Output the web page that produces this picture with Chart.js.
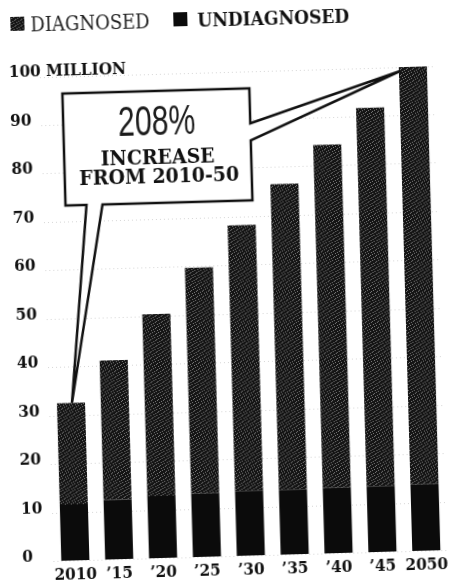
<!DOCTYPE html>
<html><head><meta charset="utf-8">
<script src="https://cdn.jsdelivr.net/npm/chart.js@4.4.1/dist/chart.umd.min.js"></script>
<style>
html,body{margin:0;padding:0;background:#fff;overflow:hidden;width:458px;height:585px}
#wrap{position:absolute;left:0;top:0;width:458px;height:585px;transform:rotate(-1.6deg);transform-origin:229px 292.5px}
canvas{display:block}
</style></head><body>
<div id="wrap"><canvas id="c" width="458" height="585"></canvas></div>
<script>
// ---- data (millions) ----
const years = ['2010', '\u201915', '\u201920', '\u201925', '\u201930', '\u201935', '\u201940', '\u201945', '2050'];
const undiagnosed = [11.7, 12.4, 12.9, 13.2, 13.5, 13.5, 13.6, 13.7, 13.8];
const diagnosed = [20.9, 28.8, 37.6, 46.6, 54.8, 63.1, 70.8, 78.1, 86.2];
const yTicks = [0, 10, 20, 30, 40, 50, 60, 70, 80, 90, 100];
const topTickLabel = '100 MILLION';
const legendOrder = ['DIAGNOSED', 'UNDIAGNOSED'];
const calloutBig = '208%';
const calloutSmall = ['INCREASE', 'FROM 2010-50'];

const SERIF = '"DejaVu Serif Condensed", "DejaVu Serif", serif';
const INK = '#111111';
const Y_AXIS_W = 31;

const canvas = document.getElementById('c');
const mainCtx = canvas.getContext('2d');
function stipple() {
  const c = document.createElement('canvas');
  c.width = 6; c.height = 6;
  const g = c.getContext('2d');
  g.fillStyle = '#141414'; g.fillRect(0, 0, 6, 6);
  g.fillStyle = '#7a7a7a';
  [[1,0],[4,2],[0,4],[3,5],[5,1],[2,3]].forEach(p => g.fillRect(p[0], p[1], 1, 1));
  return mainCtx.createPattern(c, 'repeat');
}
const diagFill = stipple();
const undiagFill = '#0b0b0b';

const legendPlugin = {
  id: 'legendDraw',
  afterDraw(chart) {
    const ctx = chart.ctx;
    const ds = chart.data.datasets;
    const items = legendOrder.map(l => ds.find(d => d.label === l));
    const layout = [
      {sx: 18, tx: 38, font: 'normal 20px ' + SERIF, color: '#222222'},
      {sx: 181, tx: 205, font: 'bold 19px ' + SERIF, color: INK}
    ];
    ctx.save();
    items.forEach((d, i) => {
      const L = layout[i];
      ctx.fillStyle = d.backgroundColor;
      ctx.fillRect(L.sx, 11, 14, 14);
      ctx.font = L.font;
      ctx.fillStyle = L.color;
      ctx.textBaseline = 'alphabetic';
      ctx.textAlign = 'left';
      ctx.fillText(d.label, L.tx, 26);
    });
    ctx.restore();
  }
};

const calloutPlugin = {
  id: 'callout',
  afterDatasetsDraw(chart) {
    const ctx = chart.ctx;
    const bars = chart.getDatasetMeta(1).data;
    const first = bars[0], last = bars[bars.length - 1];
    const p1 = {x: first.x + 1, y: first.y};
    const p2 = {x: last.x - last.width / 2 + 1, y: last.y + 4};
    const bx = 68, by = 89, bw = 187, bh = 112;
    ctx.save();
    ctx.beginPath();
    ctx.moveTo(bx, by);
    ctx.lineTo(bx + bw, by);
    ctx.lineTo(bx + bw, by + 35);
    ctx.lineTo(p2.x, p2.y);
    ctx.lineTo(bx + bw, by + 52);
    ctx.lineTo(bx + bw, by + bh);
    ctx.lineTo(bx + 37, by + bh);
    ctx.lineTo(p1.x, p1.y);
    ctx.lineTo(bx + 21, by + bh);
    ctx.lineTo(bx, by + bh);
    ctx.closePath();
    ctx.fillStyle = '#fff';
    ctx.fill();
    ctx.lineWidth = 2.5;
    ctx.strokeStyle = INK;
    ctx.lineJoin = 'miter';
    ctx.stroke();

    const cx = bx + bw / 2;
    ctx.save();
    ctx.font = 'normal 42px "Liberation Sans", Arial, sans-serif';
    ctx.fillStyle = '#1c1c1c';
    ctx.textBaseline = 'alphabetic';
    ctx.textAlign = 'center';
    ctx.translate(cx, 133);
    ctx.scale(0.72, 1);
    ctx.fillText(calloutBig, 0, 0);
    ctx.restore();

    ctx.font = 'bold 21px ' + SERIF;
    ctx.fillStyle = INK;
    ctx.textAlign = 'center';
    ctx.textBaseline = 'alphabetic';
    ctx.fillText(calloutSmall[0], cx, 162);
    ctx.fillText(calloutSmall[1], cx + 1, 181);
    ctx.restore();
  }
};

new Chart(canvas, {
  type: 'bar',
  data: {
    labels: years,
    datasets: [
      {label: 'UNDIAGNOSED', data: undiagnosed, backgroundColor: undiagFill, borderWidth: 0},
      {label: 'DIAGNOSED', data: diagnosed, backgroundColor: diagFill, borderWidth: 0}
    ]
  },
  options: {
    responsive: false,
    animation: false,
    events: [],
    layout: {padding: {top: 72, left: 15, right: 17, bottom: 0}},
    datasets: {bar: {categoryPercentage: 0.8, barPercentage: 0.8}},
    plugins: {legend: {display: false}, tooltip: {enabled: false}},
    scales: {
      x: {
        stacked: true,
        grid: {display: false, drawTicks: false},
        border: {display: false},
        ticks: {color: INK, font: {family: SERIF, size: 17, weight: 'bold'}, padding: 4, maxRotation: 0, autoSkip: false}
      },
      y: {
        stacked: true,
        min: 0, max: 100,
        afterBuildTicks(scale) { scale.ticks = yTicks.map(v => ({value: v})); },
        afterFit(scale) { scale.width = Y_AXIS_W; },
        grid: {color: 'rgba(0,0,0,0.16)', lineWidth: 1, drawTicks: false},
        border: {display: false, dash: [1, 3]},
        ticks: {
          color: INK,
          mirror: true,
          crossAlign: 'near',
          padding: -Y_AXIS_W,
          labelOffset: -5,
          autoSkip: false,
          font: {family: SERIF, size: 17, weight: 'bold'},
          callback: v => (v === 100 ? topTickLabel : String(v))
        }
      }
    }
  },
  plugins: [calloutPlugin, legendPlugin]
});
</script>
</body></html>
